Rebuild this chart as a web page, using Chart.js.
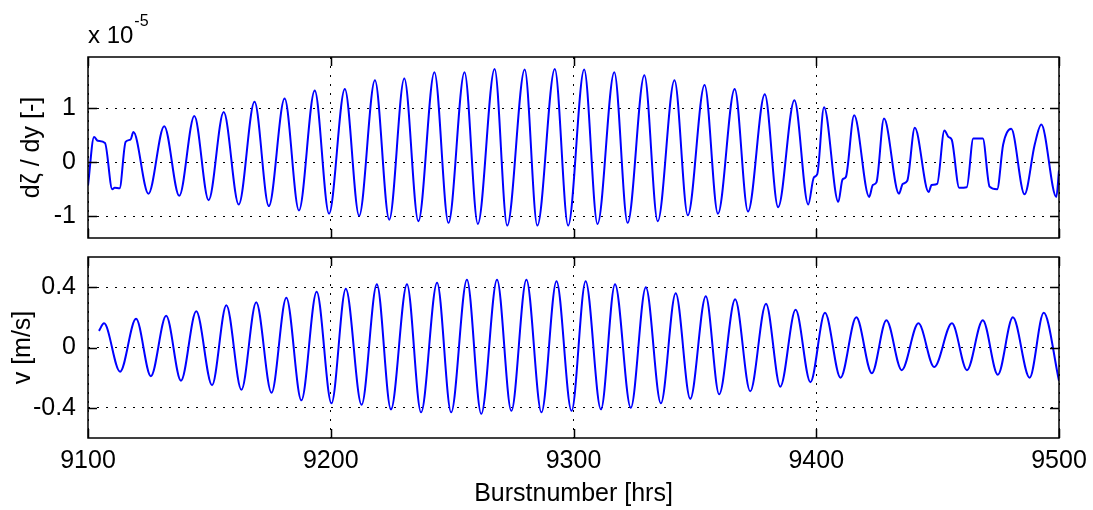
<!DOCTYPE html>
<html>
<head>
<meta charset="utf-8">
<script src="https://cdn.jsdelivr.net/npm/chart.js@4.4.0/dist/chart.umd.min.js"></script>
<style>
  html, body { margin: 0; padding: 0; background: #fff; }
  .panel { position: absolute; left: 0; width: 1093px; }
  #topPanel { top: 0; height: 250px; }
  #bottomPanel { top: 250px; height: 260px; }
</style>
</head>
<body>
<div id="topPanel" class="panel"><canvas id="gradChart"></canvas></div>
<div id="bottomPanel" class="panel"><canvas id="velChart"></canvas></div>

<script>
// surface slope dζ/dy (units of 1e-5): hour and value at turning points / shoulders
const gradHours = [
  9100, 9102.5, 9104, 9107, 9110, 9111, 9113, 9115.5, 9117.5, 9118.7,
  9124.9, 9131.4, 9137.6, 9143.8, 9149.7, 9155.9, 9162.1, 9168.6, 9174.5, 9181,
  9186.9, 9193.4, 9199.3, 9205.8, 9211.7, 9218.2, 9224.1, 9230.3, 9236.1, 9242.7,
  9248.5, 9255.1, 9260.6, 9267.5, 9272.7, 9279.9, 9285.1, 9292.3, 9297.8, 9304.4,
  9309.9, 9316.8, 9322.3, 9329.2, 9334.7, 9341.6, 9347.1, 9354.0, 9359.5, 9366.4,
  9371.9, 9378.8, 9384.3, 9391.0, 9396.7, 9399, 9400.4, 9403.2, 9409.1, 9410.8,
  9412.2, 9415.6, 9421.8, 9423.3, 9424.8, 9427.9, 9434.1, 9435.6, 9437.5, 9440.6,
  9446.3, 9447.5, 9449.8, 9452.8, 9454.5, 9455.8, 9458.9, 9462, 9464.7, 9468.6,
  9471.4, 9474.5, 9477, 9480.3, 9485.8, 9490, 9492.7, 9498.9, 9500
];
const gradValues = [
  -0.43, 0.47, 0.40, 0.36, -0.50, -0.47, -0.48, 0.38, 0.42, 0.56,
  -0.58, 0.67, -0.62, 0.86, -0.70, 0.93, -0.78, 1.12, -0.81, 1.18,
  -0.89, 1.33, -0.95, 1.36, -0.99, 1.52, -1.06, 1.55, -1.09, 1.67,
  -1.12, 1.67, -1.14, 1.73, -1.17, 1.72, -1.17, 1.73, -1.17, 1.72,
  -1.14, 1.67, -1.12, 1.61, -1.09, 1.52, -0.98, 1.43, -0.95, 1.36,
  -0.91, 1.26, -0.83, 1.15, -0.78, -0.28, -0.22, 1.02, -0.73, -0.32,
  -0.27, 0.87, -0.64, -0.42, -0.37, 0.81, -0.58, -0.40, -0.34, 0.64,
  -0.55, -0.42, -0.40, 0.59, 0.47, 0.42, -0.47, -0.46, 0.44, 0.44,
  -0.45, -0.50, 0.33, 0.62, -0.59, 0.33, 0.70, -0.64, -0.15
];

// velocity v [m/s]
const velHours = [
  9104.5, 9106.6, 9113.2, 9119.8, 9125.9, 9132.2, 9138.3, 9144.6, 9151.1, 9157.0,
  9163.2, 9169.3, 9175.6, 9181.7, 9187.9, 9194.2, 9200.3, 9206.2, 9212.7, 9219.0,
  9224.8, 9231.4, 9237.2, 9243.8, 9249.6, 9256.1, 9262.0, 9268.5, 9274.4, 9280.6,
  9286.8, 9293.0, 9299.2, 9305.0, 9311.3, 9317.1, 9323.6, 9329.8, 9336.0, 9342.1,
  9348.1, 9354.5, 9360.0, 9366.6, 9372.8, 9379.3, 9385.2, 9391.5, 9397.6, 9403.6,
  9410.0, 9416.5, 9422.9, 9428.9, 9435.2, 9442.1, 9448.6, 9455.9, 9462.1, 9468.6,
  9474.8, 9481.0, 9487.9, 9493.7, 9500
];
const velValues = [
  0.11, 0.16, -0.16, 0.19, -0.19, 0.21, -0.22, 0.24, -0.25, 0.28,
  -0.28, 0.30, -0.30, 0.33, -0.35, 0.37, -0.37, 0.39, -0.38, 0.42,
  -0.41, 0.42, -0.43, 0.43, -0.43, 0.45, -0.44, 0.45, -0.42, 0.45,
  -0.43, 0.44, -0.42, 0.44, -0.41, 0.42, -0.40, 0.40, -0.37, 0.36,
  -0.34, 0.34, -0.31, 0.32, -0.29, 0.29, -0.26, 0.25, -0.23, 0.23,
  -0.20, 0.20, -0.17, 0.18, -0.15, 0.16, -0.13, 0.16, -0.15, 0.18,
  -0.18, 0.20, -0.20, 0.23, -0.22
];

const xTicks = [9100, 9200, 9300, 9400, 9500];
const gradTicks = [-1, 0, 1];
const velTicks = [-0.4, 0, 0.4];

const FONT = "'Liberation Sans', Arial, Helvetica, sans-serif";

function toPoints(xs, ys) {
  return xs.map((x, i) => ({ x: x, y: ys[i] }));
}

// closed box with inward tick marks on all four sides
const boxFrame = {
  id: 'boxFrame',
  afterDraw(chart, args, opts) {
    const { ctx, chartArea: a, scales } = chart;
    const len = 9;
    ctx.save();
    ctx.strokeStyle = '#000';
    ctx.lineWidth = 1.5;
    ctx.beginPath();
    xTicks.forEach(v => {
      const px = Math.round(scales.x.getPixelForValue(v)) + 0.5;
      ctx.moveTo(px, a.top); ctx.lineTo(px, a.top + len);
      ctx.moveTo(px, a.bottom); ctx.lineTo(px, a.bottom - len);
    });
    opts.yTicks.forEach(v => {
      const py = Math.round(scales.y.getPixelForValue(v)) + 0.5;
      ctx.moveTo(a.left, py); ctx.lineTo(a.left + len, py);
      ctx.moveTo(a.right, py); ctx.lineTo(a.right - len, py);
    });
    ctx.stroke();
    ctx.strokeRect(a.left, a.top, a.right - a.left, a.bottom - a.top);

    if (opts.exponent) {
      ctx.fillStyle = '#000';
      ctx.textBaseline = 'alphabetic';
      ctx.font = '24px ' + FONT;
      ctx.fillText('x 10', a.left, a.top - 14);
      const w = ctx.measureText('x 10').width;
      ctx.font = '16px ' + FONT;
      ctx.fillText(opts.exponent, a.left + w + 1, a.top - 31);
    }
    ctx.restore();
  }
};

function panelOptions(cfg) {
  return {
    responsive: true,
    maintainAspectRatio: false,
    animation: false,
    layout: { padding: cfg.padding },
    plugins: {
      legend: { display: false },
      tooltip: { enabled: false },
      boxFrame: { yTicks: cfg.yTicks, exponent: cfg.exponent }
    },
    scales: {
      x: {
        type: 'linear',
        min: 9100,
        max: 9500,
        afterBuildTicks: s => { s.ticks = xTicks.map(v => ({ value: v })); },
        afterFit: s => {
          s.height = cfg.xHeight;
          s.paddingLeft = 0;
          s.paddingRight = 0;
        },
        grid: { color: '#000', lineWidth: 1, drawTicks: false },
        border: { display: false, dash: [2, 7] },
        ticks: {
          display: cfg.showX,
          padding: 8,
          color: '#000',
          font: { family: FONT, size: 25 },
          callback: v => String(v)
        },
        title: {
          display: cfg.showX,
          text: 'Burstnumber [hrs]',
          color: '#000',
          font: { family: FONT, size: 25 },
          padding: { top: 0, bottom: 1 }
        }
      },
      y: {
        min: cfg.yMin,
        max: cfg.yMax,
        afterBuildTicks: s => { s.ticks = cfg.yTicks.map(v => ({ value: v })); },
        afterFit: s => {
          s.width = 88;
          s.paddingTop = 0;
          s.paddingBottom = 0;
        },
        grid: { color: '#000', lineWidth: 1, drawTicks: false },
        border: { display: false, dash: [2, 7] },
        ticks: {
          padding: 12,
          color: '#000',
          font: { family: FONT, size: 25 },
          callback: v => String(v)
        },
        title: {
          display: true,
          text: cfg.yTitle,
          color: '#000',
          font: { family: FONT, size: 25 },
          padding: { top: cfg.titlePad, bottom: 0 }
        }
      }
    }
  };
}

function lineDataset(xs, ys) {
  return {
    data: toPoints(xs, ys),
    borderColor: '#0000ff',
    borderWidth: 2,
    pointRadius: 0,
    fill: false,
    cubicInterpolationMode: 'monotone'
  };
}

new Chart(document.getElementById('gradChart'), {
  type: 'line',
  data: { datasets: [lineDataset(gradHours, gradValues)] },
  options: panelOptions({
    padding: { top: 57, right: 34, bottom: 12, left: 0 },
    xHeight: 0,
    showX: false,
    yMin: -1.4,
    yMax: 1.95,
    yTicks: gradTicks,
    yTitle: 'dζ / dy [-]',
    titlePad: 17,
    exponent: '-5'
  }),
  plugins: [boxFrame]
});

new Chart(document.getElementById('velChart'), {
  type: 'line',
  data: { datasets: [lineDataset(velHours, velValues)] },
  options: panelOptions({
    padding: { top: 7, right: 34, bottom: 0, left: 0 },
    xHeight: 72,
    showX: true,
    yMin: -0.6,
    yMax: 0.6,
    yTicks: velTicks,
    yTitle: 'v [m/s]',
    titlePad: 8,
    exponent: null
  }),
  plugins: [boxFrame]
});
</script>
</body>
</html>
